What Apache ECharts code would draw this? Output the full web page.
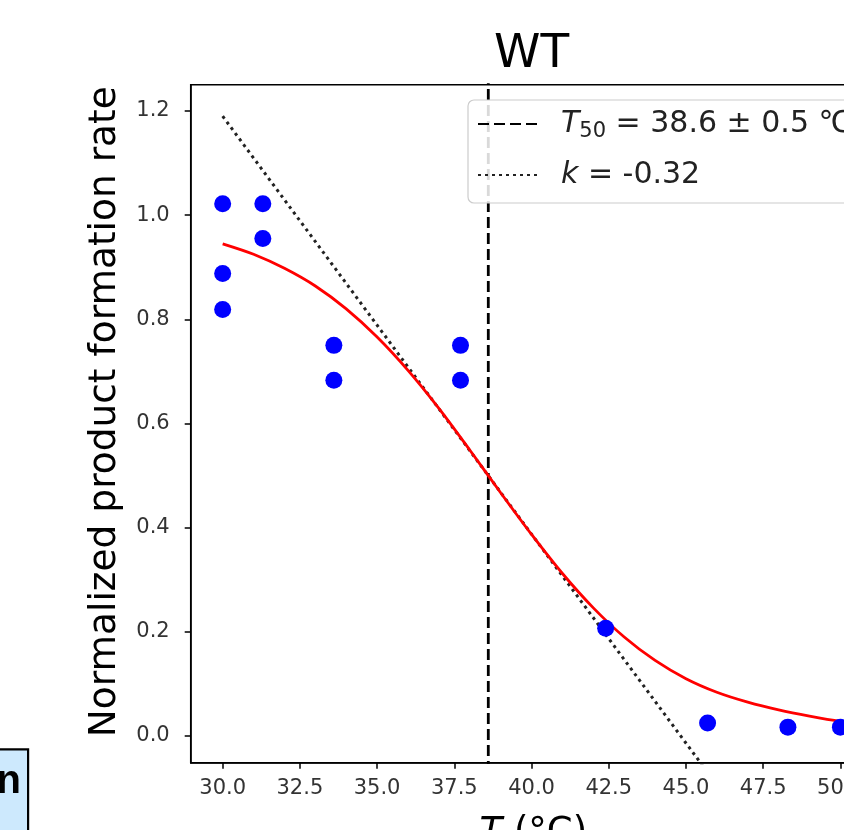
<!DOCTYPE html>
<html>
<head>
<meta charset="utf-8">
<script src="https://cdn.jsdelivr.net/npm/echarts@6/dist/echarts.min.js"></script>
<style>html,body{margin:0;padding:0;background:#fff;}#chart{width:844px;height:830px;}</style>
</head>
<body>
<div id="chart"></div>
<script>
// Measured data points (temperature °C, normalized rate)
var pointTemps = [30.0, 30.0, 30.0, 31.3, 31.3, 33.6, 33.6, 37.7, 37.7, 42.4, 45.7, 48.3, 50.0];
var pointRates = [1.022, 0.888, 0.819, 1.022, 0.955, 0.750, 0.683, 0.750, 0.683, 0.207, 0.025, 0.017, 0.017];

// Fitted curve
var fitTemps = [30, 31, 32, 33, 34, 35, 36, 37, 38, 39, 40, 41, 42, 43, 44, 45, 46, 47, 48, 49, 50, 50.7];
var fitRates = [0.945, 0.925, 0.898, 0.864, 0.820, 0.766, 0.702, 0.629, 0.549, 0.467, 0.387, 0.312, 0.246, 0.190, 0.145, 0.110, 0.084, 0.065, 0.050, 0.038, 0.028, 0.024];

// T50 vertical line and slope (k) line
var t50Temps = [38.6, 38.6];
var t50Rates = [-0.1, 1.3];
var slopeTemps = [30.0, 46.0];
var slopeRates = [1.19, -0.094];

// Tick labels
var xTicks = [30.0, 32.5, 35.0, 37.5, 40.0, 42.5, 45.0, 47.5, 50.0];
var yTicks = [0.0, 0.2, 0.4, 0.6, 0.8, 1.0, 1.2];

function zip(a, b) { return a.map(function (v, i) { return [v, b[i]]; }); }

var FONT = 'DejaVu Sans';
var chart = echarts.init(document.getElementById('chart'), null, {renderer: 'canvas'});
chart.setOption({
  animation: false,
  backgroundColor: '#fff',
  title: {
    text: 'WT',
    left: 489, top: 26,
    textStyle: {fontFamily: FONT, fontSize: 47, fontWeight: 'normal', color: '#000'}
  },
  grid: {
    left: 190.7, top: 84.7, width: 703.3, height: 678,
    outerBoundsMode: 'none', containLabel: false,
    show: true, borderColor: '#000', borderWidth: 1.5, backgroundColor: 'transparent'
  },
  xAxis: {
    type: 'value', min: 28.965, max: 51.735,
    name: '{it|T} (°C)', nameLocation: 'middle', nameGap: 52,
    nameTextStyle: {fontFamily: FONT, fontSize: 37, color: '#000', padding: [0, 18, 0, 0],
      rich: {it: {fontFamily: FONT, fontSize: 37, fontStyle: 'italic', color: '#000'}}},
    axisLine: {show: true, onZero: false, lineStyle: {color: '#000', width: 1.5}},
    axisTick: {show: true, length: 6, lineStyle: {color: '#000', width: 1.5}, customValues: xTicks},
    axisLabel: {customValues: xTicks, margin: 15, fontFamily: FONT, fontSize: 21, color: '#333',
      formatter: function (v) { return v.toFixed(1); }},
    splitLine: {show: false}
  },
  yAxis: {
    type: 'value', min: -0.0513, max: 1.2505,
    name: 'Normalized product formation rate', nameLocation: 'middle', nameGap: 66, nameRotate: 90,
    nameTextStyle: {fontFamily: FONT, fontSize: 37.5, color: '#000', padding: [0, 0, 0, 24]},
    axisLine: {show: true, onZero: false, lineStyle: {color: '#000', width: 1.5}},
    axisTick: {show: true, length: 6, lineStyle: {color: '#000', width: 1.5}, customValues: yTicks},
    axisLabel: {customValues: yTicks, margin: 21, fontFamily: FONT, fontSize: 21, color: '#333',
      formatter: function (v) { return v.toFixed(1); }},
    splitLine: {show: false}
  },
  legend: {
    z: 20,
    orient: 'vertical',
    left: 468, top: 100,
    padding: [6, 12, 10, 9],
    itemGap: 15,
    itemWidth: 60, itemHeight: 14,
    backgroundColor: 'rgba(255,255,255,0.85)',
    borderColor: '#cccccc', borderWidth: 1.2, borderRadius: 6,
    itemStyle: {opacity: 0},
    data: ['T50', 'k'],
    formatter: function (name) {
      if (name === 'T50') return '{it|T}{sub|50}{n| = 38.6 ± 0.5 ℃}';
      return '{it|k}{n| = -0.32}';
    },
    textStyle: {
      fontFamily: FONT, fontSize: 30, color: '#222', lineHeight: 36, padding: [0, 0, 0, 18],
      rich: {
        it: {fontFamily: FONT, fontSize: 30, fontStyle: 'italic', color: '#222', lineHeight: 36},
        sub: {fontFamily: FONT, fontSize: 21, color: '#222', lineHeight: 16, verticalAlign: 'bottom'},
        n: {fontFamily: FONT, fontSize: 30, color: '#222', lineHeight: 36}
      }
    }
  },
  graphic: [
    {type: 'rect', left: -10, top: 748.3, shape: {x: 0, y: 0, width: 37, height: 120},
      style: {fill: '#cde9fd', stroke: '#000', lineWidth: 2.2}, z: 10},
    {type: 'text', right: 823, top: 762,
      style: {text: 'n', font: 'bold 40px "Liberation Sans"', fill: '#000'}, z: 11}
  ],
  series: [
    {
      name: 'T50', type: 'line', data: zip(t50Temps, t50Rates), symbol: 'none', clip: true,
      lineStyle: {color: '#000', width: 2.8, type: [11, 5]}, z: 1
    },
    {
      name: 'k', type: 'line', data: zip(slopeTemps, slopeRates), symbol: 'none', clip: true,
      lineStyle: {color: '#222', width: 3, type: [3, 4]}, z: 1
    },
    {
      name: 'fit', type: 'line', data: zip(fitTemps, fitRates), symbol: 'none', smooth: 0.3, clip: true,
      lineStyle: {color: '#ff0000', width: 2.8}, z: 2
    },
    {
      name: 'data', type: 'scatter', data: zip(pointTemps, pointRates), symbol: 'circle', symbolSize: 17,
      itemStyle: {color: '#0000ff', opacity: 1}, z: 3
    }
  ]
});
</script>
</body>
</html>
